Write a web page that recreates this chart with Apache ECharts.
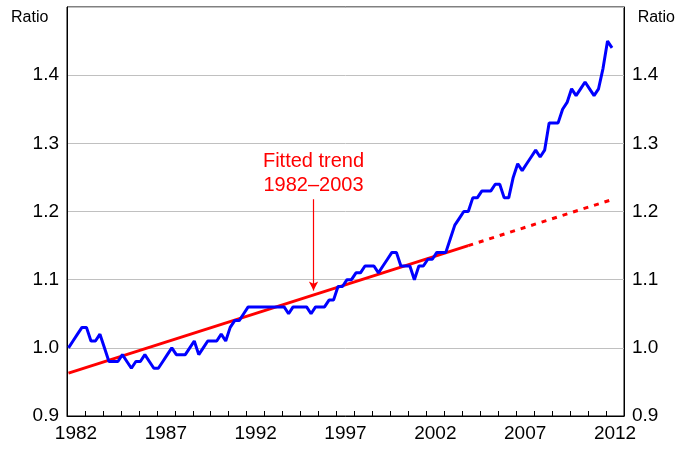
<!DOCTYPE html>
<html>
<head>
<meta charset="utf-8">
<script src="https://cdn.jsdelivr.net/npm/echarts@6/dist/echarts.min.js"></script>
<style>
html,body{margin:0;padding:0;background:#fff;}
#chart{width:683px;height:450px;}
</style>
</head>
<body>
<div id="chart"></div>
<script>
// Quarterly ratio, 1982 Q1 .. 2012 Q2
var startYear = 1982;
var ratioValues = [
  1.00, 1.01, 1.02, 1.03,
  1.03, 1.01, 1.01, 1.02,
  1.00, 0.98, 0.98, 0.98,
  0.99, 0.98, 0.97, 0.98,
  0.98, 0.99, 0.98, 0.97,
  0.97, 0.98, 0.99, 1.00,
  0.99, 0.99, 0.99, 1.00,
  1.01, 0.99, 1.00, 1.01,
  1.01, 1.01, 1.02, 1.01,
  1.03, 1.04, 1.04, 1.05,
  1.06, 1.06, 1.06, 1.06,
  1.06, 1.06, 1.06, 1.06,
  1.06, 1.05, 1.06, 1.06,
  1.06, 1.06, 1.05, 1.06,
  1.06, 1.06, 1.07, 1.07,
  1.09, 1.09, 1.10, 1.10,
  1.11, 1.11, 1.12, 1.12,
  1.12, 1.11, 1.12, 1.13,
  1.14, 1.14, 1.12, 1.12,
  1.12, 1.10, 1.12, 1.12,
  1.13, 1.13, 1.14, 1.14,
  1.14, 1.16, 1.18, 1.19,
  1.20, 1.20, 1.22, 1.22,
  1.23, 1.23, 1.23, 1.24,
  1.24, 1.22, 1.22, 1.25,
  1.27, 1.26, 1.27, 1.28,
  1.29, 1.28, 1.29, 1.33,
  1.33, 1.33, 1.35, 1.36,
  1.38, 1.37, 1.38, 1.39,
  1.38, 1.37, 1.38, 1.41,
  1.45, 1.44
];
// Fitted trend (solid over fit period, dashed extrapolation)
var trendSolid = [[1982.083, 0.963], [2004.333, 1.150]];
var trendDashed = [[2004.333, 1.150], [2012.333, 1.2175]];
// Axis ticks / labels
var yearTicks = [];
for (var y = 1982; y <= 2013; y++) yearTicks.push(y);
var yearLabels = [1982.5, 1987.5, 1992.5, 1997.5, 2002.5, 2007.5, 2012.5];
var yTicks = [0.9, 1.0, 1.1, 1.2, 1.3, 1.4];
var annotationText = 'Fitted trend\n1982–2003';

var ratioData = ratioValues.map(function (v, i) {
  return [startYear + i / 4 + 1 / 12, v];
});

var FONT = 'Liberation Sans, Arial, sans-serif';
var chart = echarts.init(document.getElementById('chart'), null, {renderer: 'canvas'});

function yAxisDef(pos) {
  return {
    type: 'value', position: pos, min: 0.9, max: 1.5, interval: 0.1,
    axisLine: {show: true, lineStyle: {color: '#000', width: 1}},
    axisTick: {show: false},
    splitLine: {show: pos === 'left', lineStyle: {color: '#c0c0c0', width: 1}},
    axisLabel: {
      show: true, color: '#000', fontFamily: FONT, fontSize: 19, margin: 8,
      showMaxLabel: false,
      formatter: function (v) { return yTicks.some(function (t) { return Math.abs(t - v) < 1e-6; }) ? v.toFixed(1) : ''; }
    }
  };
}

var option = {
  backgroundColor: '#fff',
  animation: false,
  grid: {left: 67, right: 59, top: 7, bottom: 34, show: true, borderColor: '#000', borderWidth: 1, backgroundColor: 'transparent'},
  graphic: [
    {type: 'text', left: 11, top: 10, style: {text: 'Ratio', font: '16px ' + FONT, fill: '#000'}},
    {type: 'text', right: 8, top: 10, style: {text: 'Ratio', font: '16px ' + FONT, fill: '#000'}}
  ],
  xAxis: {
    type: 'value', min: 1982, max: 2013,
    axisLine: {show: true, lineStyle: {color: '#000', width: 1}},
    splitLine: {show: false},
    axisTick: {show: true, inside: true, length: 5, customValues: yearTicks, lineStyle: {color: '#000'}},
    axisLabel: {
      show: true, customValues: yearLabels, color: '#000', fontFamily: FONT, fontSize: 19, margin: 8,
      formatter: function (v) { return String(Math.floor(v)); }
    }
  },
  yAxis: [yAxisDef('left'), yAxisDef('right')],
  series: [
    {
      type: 'line', data: trendSolid, showSymbol: false, symbol: 'none', z: 3,
      lineStyle: {color: '#ff0000', width: 3},
      markLine: {
        silent: true, symbol: ['none', 'arrow'], symbolSize: [7, 9],
        itemStyle: {color: '#ff0000'},
        lineStyle: {color: '#ff0000', width: 1.2, type: 'solid'},
        label: {show: true, position: 'start', formatter: annotationText, color: '#ff0000', fontFamily: FONT, fontSize: 20, lineHeight: 24, distance: 2},
        data: [[{coord: [1995.72, 1.218], lineStyle: {color: '#ff0000'}}, {coord: [1995.72, 1.084]}]]
      }
    },
    {
      type: 'line', data: trendDashed, showSymbol: false, symbol: 'none', z: 3,
      lineStyle: {color: '#ff0000', width: 3, type: [5, 6]}
    },
    {
      type: 'line', data: ratioData, showSymbol: false, symbol: 'none', z: 4,
      lineStyle: {color: '#0000ff', width: 3}
    }
  ]
};
chart.setOption(option);
</script>
</body>
</html>
